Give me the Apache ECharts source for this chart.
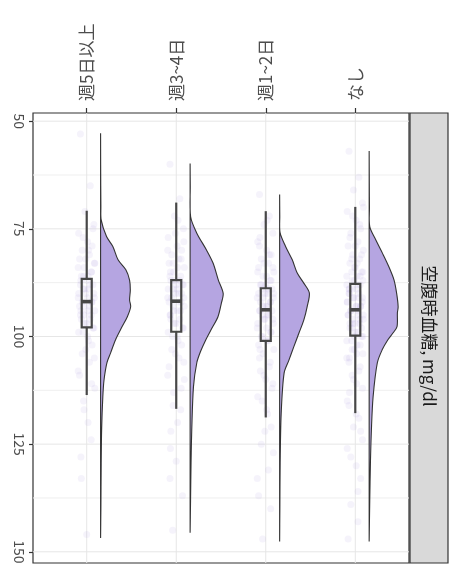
<!DOCTYPE html>
<html>
<head>
<meta charset="utf-8">
<script src="https://cdn.jsdelivr.net/npm/echarts@6/dist/echarts.min.js"></script>
<style>
html, body { margin: 0; padding: 0; background: #fff; }
#chart { width: 451px; height: 571px; }
</style>
</head>
<body>
<div id="chart"></div>
<script>
// カテゴリ（左から）
const categories = ['週5日以上', '週3~4日', '週1~2日', 'なし'];
const valueTicks = [50, 75, 100, 125, 150];
const gridValues = [50, 62.5, 75, 87.5, 100, 112.5, 125, 137.5, 150];
const stripTitle = '空腹時血糖, mg/dl';

// 密度 [値, 密度(%)]
const densityWeek5 = [[52.8, 0], [60, 0.01], [70, 0.04], [72.9, 0.08], [76.8, 0.8], [79.1, 1.65], [82.2, 2.35], [84.5, 3.4], [86.9, 3.9], [89.2, 4.0], [91.5, 3.9], [93.1, 4.05], [95.4, 3.6], [97.7, 2.9], [100.8, 2.0], [103.8, 1.35], [106.1, 0.85], [110, 0.47], [114, 0.3], [121.7, 0.14], [129.4, 0.08], [140, 0.04], [146.8, 0]];
const densityWeek34 = [[59.8, 0], [65, 0.02], [72.2, 0.07], [76.0, 0.9], [79.9, 2.2], [83.0, 3.1], [86.9, 3.8], [90.0, 4.45], [92.3, 4.2], [95.4, 3.75], [98.5, 2.8], [100.8, 2.1], [103.5, 1.4], [106.1, 0.9], [111.7, 0.45], [121.7, 0.22], [128.7, 0.13], [138, 0.06], [145.6, 0]];
const densityWeek12 = [[67, 0], [72, 0.02], [75.9, 0.06], [79.1, 0.8], [82.2, 1.7], [85.2, 2.35], [87.6, 3.25], [89.9, 4.0], [93.1, 3.7], [96.2, 3.25], [99.2, 2.6], [102.4, 1.9], [105.5, 1.25], [108.5, 0.6], [117.8, 0.21], [129.4, 0.07], [140, 0.03], [147.6, 0]];
const densityNone = [[56.9, 0], [65, 0.02], [70, 0.04], [74.5, 0.08], [77.6, 0.9], [80.7, 1.8], [83.8, 2.65], [86.9, 3.35], [90.0, 3.7], [93.1, 3.9], [94.5, 3.8], [97.7, 3.75], [99.2, 3.2], [100.8, 2.5], [103.1, 1.75], [106.1, 1.1], [114, 0.53], [121.7, 0.3], [129.4, 0.17], [138, 0.08], [147.6, 0]];

// 箱ひげ [下ひげ, Q1, 中央値, Q3, 上ひげ]
const boxWeek5 = [70.8, 86.6, 91.9, 97.9, 113.6];
const boxWeek34 = [68.9, 86.9, 91.8, 98.9, 116.8];
const boxWeek12 = [70.9, 88.8, 93.8, 101.0, 118.8];
const boxNone = [69.9, 87.8, 93.8, 99.8, 117.8];

// 個々の観測値
const pointsWeek5 = [53, 65, 71, 74, 76, 78, 79, 80, 81, 82, 83, 84, 85, 86, 87, 88, 89, 89, 90, 91, 91, 92, 93, 94, 94, 95, 96, 97, 98, 99, 100, 102, 104, 106, 109, 112, 117, 124, 133, 146,
  75, 77, 80, 82, 83, 84, 85, 86, 86, 87, 88, 88, 89, 90, 90, 91, 92, 92, 93, 93, 94, 95, 95, 96, 97, 98, 99, 101, 103, 105, 108, 111, 115, 120, 128];
const pointsWeek34 = [60, 68, 72, 75, 77, 79, 80, 81, 82, 83, 84, 85, 86, 87, 88, 88, 89, 90, 90, 91, 91, 92, 93, 94, 95, 95, 96, 97, 98, 99, 100, 102, 103, 105, 107, 110, 113, 117, 122, 129, 137, 145,
  73, 76, 78, 80, 82, 83, 84, 85, 86, 87, 87, 88, 89, 89, 90, 91, 92, 92, 93, 94, 94, 96, 97, 98, 100, 101, 104, 106, 109, 112, 116, 120, 126, 133];
const pointsWeek12 = [67, 72, 74, 76, 78, 80, 81, 82, 83, 84, 85, 86, 87, 88, 88, 89, 89, 90, 90, 91, 91, 92, 93, 93, 94, 94, 95, 96, 96, 97, 98, 99, 100, 101, 102, 103, 104, 106, 108, 110, 112, 115, 118, 122, 127, 133, 140, 147,
  73, 77, 79, 81, 83, 84, 85, 86, 87, 88, 89, 90, 90, 91, 92, 92, 93, 94, 95, 95, 96, 97, 98, 99, 100, 101, 103, 105, 107, 109, 111, 114, 117, 121, 125, 131, 137];
const pointsNone = [57, 63, 66, 69, 71, 73, 75, 76, 78, 79, 80, 81, 82, 83, 84, 85, 85, 86, 87, 87, 88, 88, 89, 89, 90, 90, 91, 91, 92, 92, 93, 93, 94, 94, 95, 95, 96, 96, 97, 97, 98, 98, 99, 100, 100, 101, 102, 103, 104, 105, 106, 108, 110, 112, 115, 118, 122, 128, 136, 147,
  70, 72, 74, 77, 79, 81, 82, 83, 84, 85, 86, 86, 87, 88, 89, 89, 90, 91, 91, 92, 93, 93, 94, 95, 95, 96, 97, 97, 98, 99, 100, 101, 102, 103, 104, 105, 107, 109, 111, 113, 116, 119, 121, 124, 126, 130, 133, 139, 143];

const jitter = [-0.07, 0.04, -0.02, 0.08, -0.09, 0.01, 0.06, -0.05, 0.03, -0.08, 0.09, -0.03, 0.05, -0.06, 0.0, 0.07, -0.04, 0.02, -0.01, 0.085, -0.095, 0.055, -0.035, 0.015, -0.065];

const densities = [densityWeek5, densityWeek34, densityWeek12, densityNone];
const boxes = [boxWeek5, boxWeek34, boxWeek12, boxNone];
const pointSets = [pointsWeek5, pointsWeek34, pointsWeek12, pointsNone];

const violinNudge = 0.155;
const widthPerDensity = 0.083;
const boxHalf = 0.056;
const font = '"Noto Sans CJK JP", "Noto Sans", sans-serif';

let scatterData = [];
pointSets.forEach((arr, i) => {
  arr.forEach((v, k) => scatterData.push([i + 1 + jitter[k % jitter.length], v]));
});

let myChart = echarts.init(document.getElementById('chart'));

function hGrid(params, api) {
  const p = api.coord([1, api.value(1)]);
  const cs = params.coordSys;
  return { type: 'line', shape: { x1: cs.x, y1: p[1], x2: cs.x + cs.width, y2: p[1] },
    style: { stroke: api.value(1) % 25 === 0 ? '#e6e6e6' : '#efefef', lineWidth: 1 } };
}
function vGrid(params, api) {
  const p = api.coord([api.value(0), 100]);
  const cs = params.coordSys;
  return { type: 'line', shape: { x1: p[0], y1: cs.y, x2: p[0], y2: cs.y + cs.height },
    style: { stroke: '#e6e6e6', lineWidth: 1 } };
}
function violinItem(params, api) {
  const i = params.dataIndex;
  const d = densities[i];
  const base = i + 1 + violinNudge;
  const pts = [];
  for (let k = 0; k < d.length; k++) pts.push(api.coord([base, d[k][0]]));
  for (let k = d.length - 1; k >= 0; k--) pts.push(api.coord([base + d[k][1] * widthPerDensity, d[k][0]]));
  return { type: 'polygon', shape: { points: pts, smooth: 0.3 },
    style: { fill: '#b5a5e1', stroke: '#333333', lineWidth: 1.1 } };
}
function boxItem(params, api) {
  const i = params.dataIndex;
  const b = boxes[i];
  const c = i + 1;
  const low = api.coord([c, b[0]]);
  const q1 = api.coord([c - boxHalf, b[1]]);
  const q3 = api.coord([c + boxHalf, b[3]]);
  const high = api.coord([c, b[4]]);
  const m1 = api.coord([c - boxHalf, b[2]]);
  const m2 = api.coord([c + boxHalf, b[2]]);
  const s = { stroke: '#474747', lineWidth: 2.2, fill: 'none' };
  return { type: 'group', children: [
    { type: 'line', shape: { x1: low[0], y1: low[1], x2: low[0], y2: q1[1] }, style: s },
    { type: 'line', shape: { x1: high[0], y1: q3[1], x2: high[0], y2: high[1] }, style: s },
    { type: 'rect', shape: { x: q1[0], y: q1[1], width: q3[0] - q1[0], height: q3[1] - q1[1] }, style: s },
    { type: 'line', shape: { x1: m1[0], y1: m1[1], x2: m2[0], y2: m2[1] }, style: { stroke: '#474747', lineWidth: 3.6 } }
  ] };
}

var option = {
  animation: false,
  grid: { left: 33, right: 42, top: 113, bottom: 8, show: true, borderColor: '#333333', borderWidth: 1.2 },
  xAxis: {
    type: 'value', position: 'top', min: 0.4, max: 4.6,
    axisLine: { show: false }, splitLine: { show: false },
    axisTick: { show: true, customValues: [1, 2, 3, 4], length: 5, lineStyle: { color: '#333333', width: 1.2 } },
    axisLabel: { customValues: [1, 2, 3, 4], formatter: v => categories[Math.round(v) - 1], rotate: -90,
      margin: 12, fontSize: 17, color: '#4d4d4d', fontFamily: font }
  },
  yAxis: {
    type: 'value', inverse: true, min: 48.1, max: 152.6,
    axisLine: { show: false }, splitLine: { show: false },
    axisTick: { show: true, customValues: valueTicks, length: 4, lineStyle: { color: '#333333', width: 1.2 } },
    axisLabel: { customValues: valueTicks, rotate: -90, margin: 7, fontSize: 14, color: '#4d4d4d', fontFamily: font }
  },
  graphic: [
    { type: 'rect', shape: { x: 410, y: 113, width: 38, height: 450 }, style: { fill: '#d9d9d9', stroke: '#333333', lineWidth: 1.2 } },
    { type: 'text', x: 429, y: 336, rotation: -Math.PI / 2,
      style: { text: stripTitle, fontSize: 17, fill: '#1a1a1a', align: 'center', verticalAlign: 'middle', fontFamily: font } }
  ],
  series: [
    { type: 'custom', renderItem: hGrid, data: gridValues.map(v => [1, v]), silent: true, z: 0 },
    { type: 'custom', renderItem: vGrid, data: [1, 2, 3, 4].map(c => [c, 100]), silent: true, z: 0 },
    { type: 'scatter', data: scatterData, symbolSize: 7, itemStyle: { color: '#9a86d6', opacity: 0.1 }, silent: true, z: 1 },
    { type: 'custom', renderItem: violinItem, data: [1, 2, 3, 4].map(c => [c, 100]), silent: true, z: 2 },
    { type: 'custom', renderItem: boxItem, data: [1, 2, 3, 4].map(c => [c, 100]), silent: true, z: 3 }
  ]
};

myChart.setOption(option);
window.addEventListener("resize", () => {
  myChart.resize();
});
</script>
</body>
</html>
